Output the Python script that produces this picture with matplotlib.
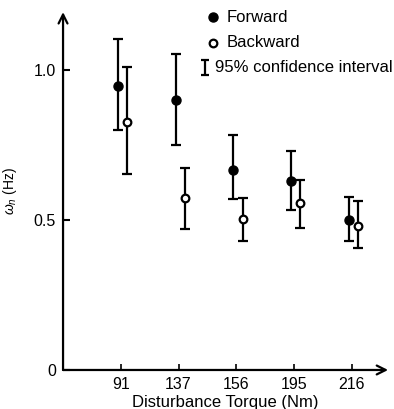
import matplotlib.pyplot as plt

plt.rcParams['font.family'] = ['Liberation Sans', 'DejaVu Sans']
plt.rcParams['mathtext.fontset'] = 'custom'
plt.rcParams['mathtext.rm'] = 'Liberation Sans'
plt.rcParams['mathtext.it'] = 'Liberation Sans:italic'

# disturbance torque levels (Nm)
torques = ['91', '137', '156', '195', '216']

# natural frequency wn (Hz) with 95% CI bounds
fwd = [0.947, 0.900, 0.667, 0.630, 0.500]
fwd_lo = [0.800, 0.750, 0.570, 0.533, 0.430]
fwd_hi = [1.103, 1.053, 0.783, 0.730, 0.577]

bwd = [0.827, 0.573, 0.503, 0.557, 0.480]
bwd_lo = [0.653, 0.470, 0.430, 0.473, 0.407]
bwd_hi = [1.010, 0.673, 0.573, 0.633, 0.563]

fig = plt.figure(figsize=(3.94, 4.09), dpi=100)
ax = fig.add_axes([0.16, 0.0954, 0.825, 0.875])

pos = range(1, len(torques) + 1)
xf = [p - 0.05 for p in pos]
xb = [p + 0.11 for p in pos]

ax.errorbar(xf, fwd, yerr=[[v - l for v, l in zip(fwd, fwd_lo)], [h - v for v, h in zip(fwd, fwd_hi)]],
            fmt='o', color='black', ms=6.5, elinewidth=1.6, capsize=3.5, capthick=1.6, zorder=3)
ax.errorbar(xb, bwd, yerr=[[v - l for v, l in zip(bwd, bwd_lo)], [h - v for v, h in zip(bwd, bwd_hi)]],
            fmt='o', color='black', mfc='white', mec='black', mew=1.6, ms=5.5,
            elinewidth=1.6, capsize=3.5, capthick=1.6, zorder=3)

ax.set_xlim(0, 5.63)
ax.set_ylim(0, 1.193)
for s in ax.spines.values():
    s.set_visible(False)

# axis lines with open arrowheads
ax.annotate('', xy=(0, 1), xytext=(0, 0), xycoords='axes fraction',
            arrowprops=dict(arrowstyle='->', lw=1.6, color='black', mutation_scale=16, shrinkA=0, shrinkB=0))
ax.annotate('', xy=(1, 0), xytext=(0, 0), xycoords='axes fraction',
            arrowprops=dict(arrowstyle='->', lw=1.6, color='black', mutation_scale=16, shrinkA=0, shrinkB=0))

ax.set_xticks(list(pos))
ax.set_xticklabels(torques)
ax.set_yticks([0, 0.5, 1.0])
ax.set_yticklabels(['0', '0.5', '1.0'])
ax.tick_params(axis='y', direction='in', length=5, width=1.5, labelsize=11.5, pad=5)
ax.tick_params(axis='x', direction='in', length=4, width=1.2, labelsize=11.5, pad=5)

ax.set_xlabel('Disturbance Torque (Nm)', fontsize=12, labelpad=2)
ax.set_ylabel(r'$\omega_n$ (Hz)', fontsize=10)
ax.yaxis.set_label_coords(-0.135, 0.5)

# legend drawn by hand
ax.plot([0.461], [0.985], 'o', color='black', ms=6.5, transform=ax.transAxes, clip_on=False)
ax.text(0.503, 0.985, 'Forward', transform=ax.transAxes, fontsize=12, va='center')
ax.plot([0.461], [0.915], 'o', color='black', mfc='white', mew=1.6, ms=5.5, transform=ax.transAxes, clip_on=False)
ax.text(0.503, 0.915, 'Backward', transform=ax.transAxes, fontsize=12, va='center')
ax.errorbar([0.438], [0.845], yerr=[0.022], fmt='none', ecolor='black', elinewidth=1.6,
            capsize=3, capthick=1.6, transform=ax.transAxes, clip_on=False)
ax.text(0.466, 0.845, '95% confidence interval', transform=ax.transAxes, fontsize=12, va='center')

fig.savefig('out.png', dpi=100)
